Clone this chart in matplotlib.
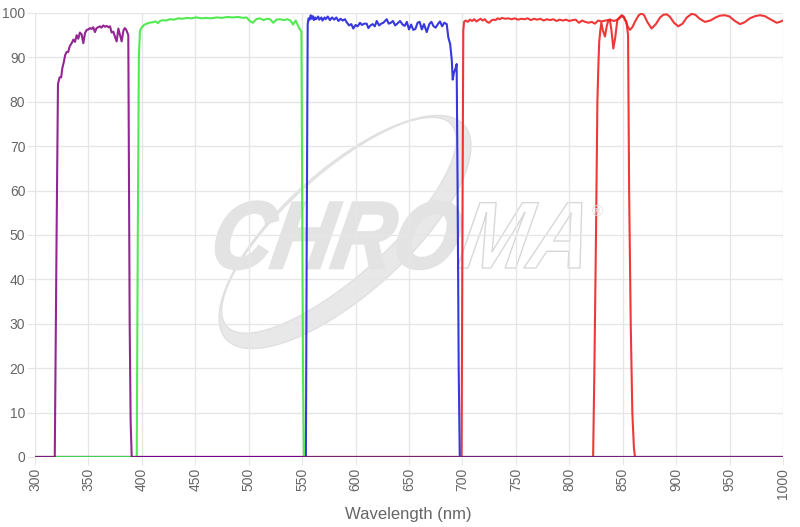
import numpy as np
import matplotlib
matplotlib.use("Agg")
import matplotlib.pyplot as plt
from matplotlib.path import Path
from matplotlib.patches import PathPatch
from matplotlib.textpath import TextPath
from matplotlib.font_manager import FontProperties
from matplotlib.transforms import Affine2D

plt.rcParams["font.family"] = ["Liberation Sans", "DejaVu Sans"]

# transmission curves (wavelength nm, % T)
wl_purple = [300, 318.5, 320.2, 321.5, 323, 324.5, 325.5, 327, 328.2, 329.5, 331, 332.5, 334.3, 335.9,
             337.4, 339, 340.5, 342, 343.6, 345.2, 346.8, 348.4, 350, 351.5, 353, 354.5, 356.1, 357.6,
             359.2, 360.8, 362.3, 363.9, 365.5, 367, 368.6, 370.2, 371.7, 373.3, 374.9, 376.4, 378,
             379.5, 381.1, 382.7, 384, 385.2, 386.4, 387.3, 387.8, 388.6, 389.5, 390.5, 1000]
t_purple = [0, 0, 50, 84, 85.5, 85.5, 87.5, 89, 90.5, 91.2, 91.2, 92.5, 93.2, 94,
            93.5, 95, 94.2, 95.6, 95.2, 93.2, 95.5, 96.2, 96.3, 96.6, 96.4, 96.8, 95.7, 96.6,
            96.8, 97, 96.7, 97.2, 96.9, 97.1, 96.8, 97, 95.6, 95.8, 94.6, 93.6, 96.5,
            95.1, 93.6, 96, 96.6, 96.3, 95.6, 95, 70, 30, 8, 0, 0]

wl_green = [300, 395.2, 396.2, 397.2, 398.2, 400, 402, 404.5, 407, 410, 413, 415, 417, 420, 423, 426,
            430, 434, 438, 442, 446, 451, 456, 460, 465, 470, 475, 480, 485, 490, 495, 498, 501, 504,
            507, 510.5, 514, 517, 520, 523, 526, 529, 533, 536, 539, 541.5, 544, 546, 548, 549.3,
            550, 550.8, 551.7, 1000]
t_green = [0, 0, 50, 90, 96, 96.8, 97.3, 97.6, 97.8, 97.9, 98.1, 97.7, 98.2, 98.4, 98.3, 98.6,
           98.5, 98.8, 98.7, 98.9, 98.8, 99, 98.8, 98.9, 98.8, 99, 98.9, 99.1, 99, 99.1, 98.9, 99, 98.2, 97.8,
           98.6, 98.8, 98.4, 98.7, 98.6, 97.8, 98.5, 98.6, 98.4, 98.6, 98.3, 97.4, 98.3, 97.2, 96.3, 95.8,
           60, 20, 0, 0]

wl_blue = [300, 553.5, 554.3, 555.2, 556, 557, 558, 559, 560, 561, 562, 563, 565, 566, 568, 569, 571,
           572, 574, 576, 578, 580, 582, 584, 586, 588, 590, 592, 594, 596, 597.9, 600, 602, 604.1,
           606, 608, 610.4, 612, 614, 616, 618, 619.8, 622, 624, 626, 629.1, 631, 633, 635, 637, 639,
           641.6, 644, 646, 648, 650, 652, 654, 656, 658, 660, 662, 664, 666.6, 669, 671, 673, 675,
           677, 679, 681, 683, 685.3, 686.8, 688.5, 690, 690.9, 692, 693.5, 694.6, 695.5, 696.5,
           697.5, 1000]
t_blue = [0, 0, 50, 97.5, 98.8, 98.5, 99.5, 98.7, 99.3, 98.4, 99, 98.6, 99.2, 98.5, 99, 98.3, 99,
          98.6, 99.2, 98.4, 99, 98.5, 99, 98.2, 98.7, 98.3, 98.6, 97.8, 97.2, 97.5, 96.5, 97.3, 97, 97.8,
          97.3, 97.6, 97.6, 96.6, 97.2, 97.5, 97, 98.2, 97.2, 97.6, 97.8, 98.6, 97.6, 97.8, 98.2, 97.2, 97.6,
          98.2, 97.4, 97.1, 98, 96.3, 97.4, 96.2, 96.4, 97.8, 98, 96.3, 97.5, 95.7, 97.5, 98, 97, 96.7,
          97.5, 98.1, 97, 97.8, 97.5, 94.5, 93, 89.5, 85, 86.5, 87.5, 88.5, 60, 20,
          0, 0]

wl_red1 = [300, 699.2, 700, 700.8, 701.5, 703, 705, 707, 709, 711, 713, 715, 717, 719, 721, 723, 725,
           727, 729, 731, 733, 735, 737, 740, 743, 746, 749, 752, 755, 758, 761, 764, 767, 770, 773,
           776, 779, 782, 785, 788, 791, 794, 797, 800, 803, 806, 809, 812, 815, 818, 821, 824, 827,
           830, 834, 838, 842, 846, 849, 851, 853.5, 855, 856, 857.5, 859, 860.5, 861.5, 1000]
t_red1 = [0, 0, 50, 96, 98, 98.3, 98, 98.5, 98.2, 98.6, 98.1, 98.4, 98.7, 98.3, 98.6, 98, 97.8,
          98.3, 98.5, 98.4, 98.8, 98.6, 98.9, 98.7, 98.8, 98.6, 98.8, 98.5, 98.7, 98.6, 98.8, 98.4, 98.7, 98.5, 98.7,
          98.3, 98.6, 98.4, 98.6, 98.2, 98.5, 98.3, 98.5, 98.2, 98.4, 98.5, 97.8, 98.3, 98, 97.8, 98, 97.6, 98.3,
          98.1, 98.3, 98.5, 98.2, 98.6, 99.3, 99, 98, 95, 60, 30, 10, 2, 0, 0]

wl_red2 = [300, 822.3, 823.5, 825, 826.3, 827.2, 828, 829, 830, 831.5, 833.4, 835, 836.5, 838, 839.5,
           841.2, 843, 845, 847, 849, 851, 853, 855, 856.8, 859, 862, 865, 867.7, 870, 873, 877, 881,
           885, 888, 891.1, 894, 898, 902, 906, 910, 914.5, 918, 922, 927, 932, 937, 941, 945.7, 950,
           955, 959.8, 964, 969, 974, 978.5, 983, 988, 994.1, 997, 1000]
t_red2 = [0, 0, 20, 50, 80, 88, 93.5, 96, 97.8, 96, 94.7, 97, 98.3, 98.5, 96,
          92, 94.5, 98.5, 99, 99.5, 99.2, 98, 96.8, 96.2, 96.8, 98.3, 99.5, 99.9, 99.5, 98, 96.5, 97.5,
          99, 99.6, 99.7, 99.2, 97.8, 97, 97.6, 99, 99.8, 99.6, 98.7, 98, 98.3, 99, 99.4, 99.5, 99.2,
          98.2, 97.5, 97.9, 98.8, 99.3, 99.5, 99.3, 98.6, 97.8, 98, 98.3]

x_ticks = list(range(300, 1001, 50))
y_ticks = list(range(0, 101, 10))

W, H = 800, 527
fig = plt.figure(figsize=(W / 100, H / 100), dpi=100)
ax = fig.add_axes([35 / W, 1 - 457 / H, 748 / W, 444 / H])

# pixel-space transform for the watermark (origin bottom-left)
pix = Affine2D().scale(1 / W, 1 / H) + fig.transFigure

# swoosh: crescent between two tilted ellipses
ang = np.deg2rad(42)
u = np.array([np.cos(ang), np.sin(ang)])
v = np.array([-np.sin(ang), np.cos(ang)])
c = np.array([345, H - 232])
t = np.linspace(0, 2 * np.pi, 240)
outer = c + np.outer(160 * np.cos(t), u) + np.outer(62 * np.sin(t), v)
c_in = c + 9 * v
inner = c_in + np.outer(151 * np.cos(t), u) + np.outer(51 * np.sin(t), v)
inner = inner[::-1]
verts = np.vstack([outer, inner])
codes = ([Path.MOVETO] + [Path.LINETO] * (len(outer) - 2) + [Path.CLOSEPOLY]) * 2
ax.add_patch(PathPatch(Path(verts, codes), transform=pix, fc="#e8e8e8", ec="#e0e0e0",
                       lw=1, zorder=0.2))

fp = FontProperties(family="Liberation Sans", weight="bold", style="italic")
tp1 = TextPath((0, 0), "CHRO", size=1, prop=fp)
w1 = tp1.get_extents().x1
tp2 = TextPath((w1 + 0.03, 0), "MA", size=1, prop=fp)
x0 = tp1.get_extents().x0
total = tp2.get_extents().x1 - x0
sx = 368 / total
sy = 68 / 0.716
tr = (Affine2D().translate(-x0, 0).scale(sx, sy).skew_deg(10, 0)
      .translate(212, H - 268) + pix)
ax.add_patch(PathPatch(tp1, transform=tr, fc="#e3e3e3", ec="#e3e3e3", lw=2, zorder=0.2))
ax.add_patch(PathPatch(tp2, transform=tr, fc="white", ec="#d8d8d8", lw=1, zorder=0.2))
fig.text(597 / W, 1 - 212 / H, "®", fontsize=11, color="#dddddd", ha="center", va="center")

lw = 1.5
ax.plot(wl_red2, t_red2, color="#ee2222", lw=lw, alpha=0.9, zorder=2)
ax.plot(wl_red1, t_red1, color="#ee2222", lw=lw, alpha=0.9, zorder=2)
ax.plot(wl_blue, t_blue, color="#2222dd", lw=lw, alpha=0.9, zorder=2)
ax.plot(wl_green, t_green, color="#3ee83e", lw=lw, alpha=0.9, zorder=2)
ax.plot(wl_purple, t_purple, color="#800080", lw=lw, alpha=0.85, zorder=2)

ax.set_xlim(300, 1000)
ax.set_ylim(0, 100)
ax.set_xticks(x_ticks)
ax.set_yticks(y_ticks)
ax.set_xticklabels([str(x) for x in x_ticks], rotation=90)
ax.set_axisbelow(True)
ax.grid(True, color="#e6e6e6", lw=1)
for s in ax.spines.values():
    s.set_visible(False)
ax.tick_params(length=6, color="#e6e6e6", labelcolor="#666666", labelsize=10)
ax.tick_params(axis="y", pad=1)
ax.tick_params(axis="x", pad=2)

fig.text(408 / W, 1 - 514 / H, "Wavelength (nm)", fontsize=12, color="#666666",
         ha="center", va="center")

fig.savefig("out.png", dpi=100)
